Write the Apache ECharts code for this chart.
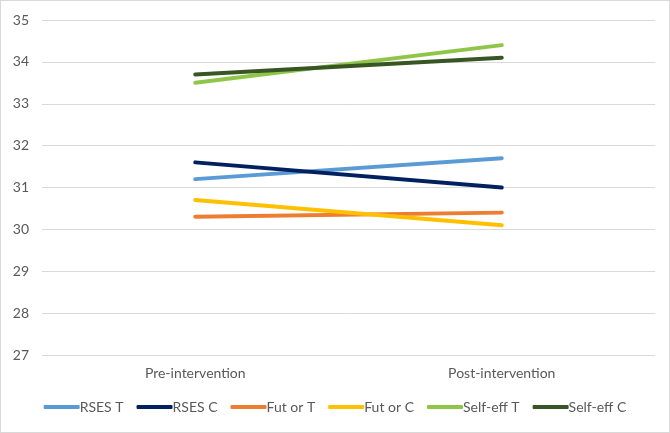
<!DOCTYPE html>
<html><head><meta charset="utf-8">
<script src="https://cdn.jsdelivr.net/npm/echarts@6/dist/echarts.min.js"></script>
<style>html,body{margin:0;padding:0;background:#fff}#c{width:668px;height:431px;border:1px solid #d9d9d9}</style>
</head><body><div id="c"></div>
<script>
const categories = ['Pre-intervention', 'Post-intervention'];
const seriesNames = ['RSES T', 'RSES C', 'Fut or T', 'Fut or C', 'Self-eff T', 'Self-eff C'];
const rsesT = [31.2, 31.7];
const rsesC = [31.6, 31.0];
const futT = [30.3, 30.4];
const futC = [30.7, 30.1];
const selfT = [33.5, 34.4];
const selfC = [33.7, 34.1];
const colors = ['#5B9BD5', '#002060', '#ED7D31', '#FFC000', '#8FC64A', '#375623'];
const values = [rsesT, rsesC, futT, futC, selfT, selfC];
const font = 'Lato, "Open Sans", sans-serif';
const chart = echarts.init(document.getElementById('c'));
chart.setOption({
  animation: false,
  textStyle: {fontFamily: font},
  grid: {left: 41, right: 14, top: 19, bottom: 77},
  legend: {
    bottom: 13, left: 'center', itemWidth: 36, itemHeight: 4, itemGap: 13,
    icon: 'roundRect',
    textStyle: {color: '#595959', fontSize: 14, fontFamily: font, padding: [0,0,0,-5]},
    data: seriesNames
  },
  xAxis: {
    type: 'category', data: categories, boundaryGap: true,
    axisLine: {show: false}, axisTick: {show: false},
    axisLabel: {color: '#595959', fontSize: 14, margin: 11, fontFamily: font}
  },
  yAxis: {
    type: 'value', min: 27, max: 35, interval: 1,
    axisLine: {show: false}, axisTick: {show: false},
    axisLabel: {color: '#595959', fontSize: 14, margin: 13, fontFamily: font},
    splitLine: {lineStyle: {color: '#d9d9d9', width: 1}}
  },
  series: seriesNames.map((n, i) => ({
    name: n, type: 'line', data: values[i], showSymbol: false, symbol: 'none',
    itemStyle: {color: colors[i]},
    lineStyle: {color: colors[i], width: 4, cap: 'round'}
  }))
});
</script></body></html>
